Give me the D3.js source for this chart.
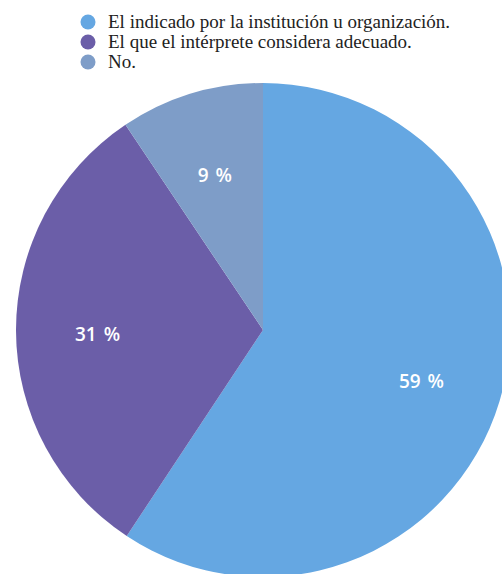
<!DOCTYPE html>
<html><head><meta charset="utf-8">
<script src="https://cdn.jsdelivr.net/npm/d3@7"></script>
<style>body{margin:0;background:#fff}svg{display:block}</style>
</head><body>
<script>
const categories = ["El indicado por la institución u organización.", "El que el intérprete considera adecuado.", "No."];
const values = [59.3, 31.3, 9.4];
const labels = ["59 %", "31 %", "9 %"];
const colors = ["#65A7E2", "#6B5EA8", "#7E9DC8"];

const W = 502, H = 574;
const svg = d3.select("body").append("svg").attr("width", W).attr("height", H);
const cx = 263, cy = 330, R = 247;
const pie = d3.pie().sort(null).value(d => d)(values);
const arc = d3.arc().innerRadius(0).outerRadius(R);
const labelArc = d3.arc().innerRadius(R * 0.67).outerRadius(R * 0.67);
const g = svg.append("g").attr("transform", `translate(${cx},${cy})`);
g.selectAll("path").data(pie).join("path").attr("d", arc).attr("fill", (d, i) => colors[i]);
g.selectAll("text").data(pie).join("text")
  .attr("transform", d => `translate(${labelArc.centroid(d)})`)
  .attr("text-anchor", "middle").attr("dy", "0.55em")
  .attr("fill", "#fff").attr("font-family", "Open Sans, sans-serif")
  .attr("font-weight", 600).attr("font-size", 19)
  .attr("word-spacing", 2)
  .text((d, i) => labels[i]);

const leg = svg.append("g");
categories.forEach((c, i) => {
  const y = 22 + i * 20;
  leg.append("circle").attr("cx", 88).attr("cy", y).attr("r", 7.5).attr("fill", colors[i]);
  leg.append("text").attr("x", 108).attr("y", y + 6)
    .attr("font-family", "Liberation Serif, Times New Roman, serif").attr("font-size", 19)
    .attr("fill", "#222").text(c);
});
</script>
</body></html>
